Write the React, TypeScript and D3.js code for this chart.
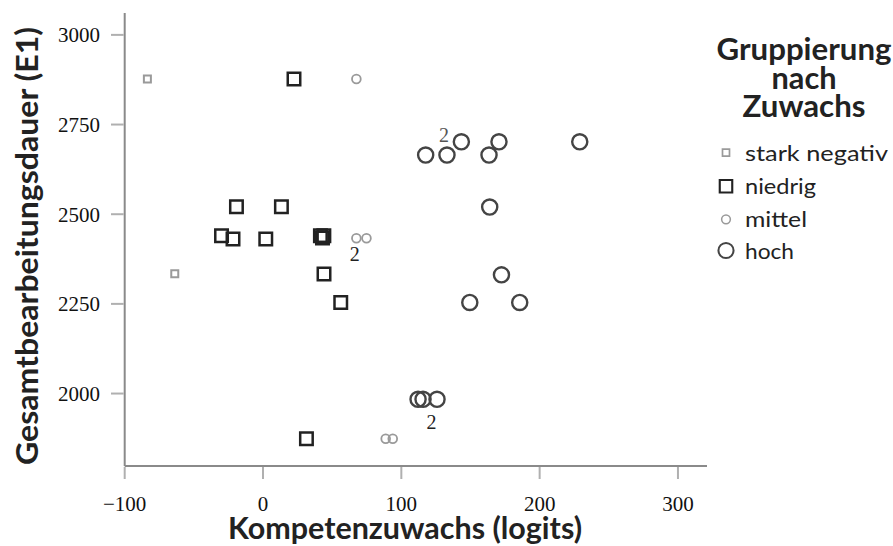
import React from "react";
import * as d3 from "d3";

const groups = ["stark negativ", "niedrig", "mittel", "hoch"];

const starkNegativX = [-83.6, -63.8];
const starkNegativY = [2877, 2334];

const niedrigX = [22.4, -19.2, 13.3, -30, -21.7, 2, 41.5, 43, 44, 44.1, 56.2, 31.4];
const niedrigY = [2877, 2521, 2521, 2440, 2431, 2431, 2440, 2434, 2440, 2333, 2254, 1874];

const mittelX = [67.5, 67.5, 74.8, 88.7, 93.8];
const mittelY = [2877, 2433, 2433, 1874, 1874];

const hochX = [117.6, 133, 143.4, 163.4, 170.6, 229, 163.9, 172.4, 149.5, 185.6, 112.1, 115.7, 125.8];
const hochY = [2665, 2665, 2702, 2665, 2702, 2702, 2520, 2331, 2254, 2254, 1984, 1984, 1984];

const countLabelX = [130.9, 66.3, 121.8];
const countLabelY = [2721, 2388, 1922];
const countLabelText = ["2", "2", "2"];

const xTicks = [-100, 0, 100, 200, 300];
const yTicks = [2000, 2250, 2500, 2750, 3000];

const legendTitle = ["Gruppierung", "nach", "Zuwachs"];
const legendTitleWidths = [175, 65, 123];
const legendLabelWidths = [143, 71, 62, 49];

const styles: Record<string, { shape: d3.SymbolType; size: number; stroke: string; sw: number }> = {
  "stark negativ": { shape: d3.symbolSquare, size: 49, stroke: "#9a9a9a", sw: 2 },
  niedrig: { shape: d3.symbolSquare, size: 156, stroke: "#222222", sw: 2.5 },
  mittel: { shape: d3.symbolCircle, size: 60, stroke: "#9a9a9a", sw: 1.8 },
  hoch: { shape: d3.symbolCircle, size: 180, stroke: "#444444", sw: 2.4 },
};

const seriesData: Record<string, [number[], number[]]> = {
  "stark negativ": [starkNegativX, starkNegativY],
  niedrig: [niedrigX, niedrigY],
  mittel: [mittelX, mittelY],
  hoch: [hochX, hochY],
};

const serif = "'Liberation Serif', 'DejaVu Serif', serif";
const sans = "Lato, 'Open Sans', sans-serif";

export default function App() {
  const x = d3.scaleLinear().domain([-100, 321]).range([124.7, 707]);
  const y = d3.scaleLinear().domain([1798, 3061]).range([466, 13]);
  const sym = (g: string) => d3.symbol().type(styles[g].shape).size(styles[g].size)() as string;

  const legendY = [152.7, 186.2, 219.3, 250.5];

  return (
    <svg
      width={893}
      height={546}
      style={{ position: "absolute", left: 0, top: 0, background: "#fff" }}
    >
      {/* axes */}
      <line x1={x(-100)} x2={x(-100)} y1={y(3061)} y2={y(1798)} stroke="#8a8a8a" strokeWidth={2} />
      <line x1={x(-100)} x2={x(321)} y1={y(1798)} y2={y(1798)} stroke="#8a8a8a" strokeWidth={2} />
      {xTicks.map((t) => (
        <g key={"xt" + t}>
          <line x1={x(t)} x2={x(t)} y1={467} y2={479} stroke="#b0b0b0" strokeWidth={2} />
          <text
            x={x(t)}
            y={511}
            textAnchor="middle"
            fontFamily={serif}
            fontSize={21}
            fill="#111"
          >
            {t < 0 ? "\u2212" + Math.abs(t) : t}
          </text>
        </g>
      ))}
      {yTicks.map((t) => (
        <g key={"yt" + t}>
          <line x1={111} x2={123.7} y1={y(t)} y2={y(t)} stroke="#b0b0b0" strokeWidth={2} />
          <text
            x={100}
            y={y(t) + 7.5}
            textAnchor="end"
            fontFamily={serif}
            fontSize={21}
            fill="#111"
          >
            {t}
          </text>
        </g>
      ))}

      {/* axis titles */}
      <text
        x={405}
        y={538.5}
        textAnchor="middle"
        fontFamily={sans}
        fontWeight={700}
        fontSize={30}
        fill="#222"
        textLength={354}
        lengthAdjust="spacingAndGlyphs"
      >
        Kompetenzuwachs (logits)
      </text>
      <text
        transform={`translate(38,246) rotate(-90)`}
        textAnchor="middle"
        fontFamily={sans}
        fontWeight={700}
        fontSize={30}
        fill="#222"
        textLength={438}
        lengthAdjust="spacingAndGlyphs"
      >
        Gesamtbearbeitungsdauer (E1)
      </text>

      {/* points */}
      {groups.map((g) => {
        const [xs, ys] = seriesData[g];
        return (
          <g key={g}>
            {xs.map((v, i) => (
              <path
                key={i}
                d={sym(g)}
                transform={`translate(${x(v)},${y(ys[i])})`}
                fill="none"
                stroke={styles[g].stroke}
                strokeWidth={styles[g].sw}
              />
            ))}
          </g>
        );
      })}

      {/* count labels */}
      {countLabelX.map((v, i) => (
        <text
          key={"c" + i}
          x={x(v)}
          y={y(countLabelY[i]) + 7}
          textAnchor="middle"
          fontFamily={serif}
          fontSize={20}
          fill={i === 0 ? "#555" : "#222"}
        >
          {countLabelText[i]}
        </text>
      ))}

      {/* legend */}
      <g fontFamily={sans} fill="#222">
        {legendTitle.map((l, i) => (
          <text
            key={l}
            x={804}
            y={60 + i * 28.7}
            textAnchor="middle"
            fontWeight={700}
            fontSize={30}
            textLength={legendTitleWidths[i]}
            lengthAdjust="spacingAndGlyphs"
          >
            {l}
          </text>
        ))}
        {groups.map((g, i) => (
          <g key={"lg" + g}>
            <path
              d={sym(g)}
              transform={`translate(726,${legendY[i]})`}
              fill="none"
              stroke={styles[g].stroke}
              strokeWidth={styles[g].sw * 0.85}
            />
            <text
              x={745}
              y={legendY[i] + 8}
              fontSize={22}
              fill="#222"
              textLength={legendLabelWidths[i]}
              lengthAdjust="spacingAndGlyphs"
            >
              {g}
            </text>
          </g>
        ))}
      </g>
    </svg>
  );
}
